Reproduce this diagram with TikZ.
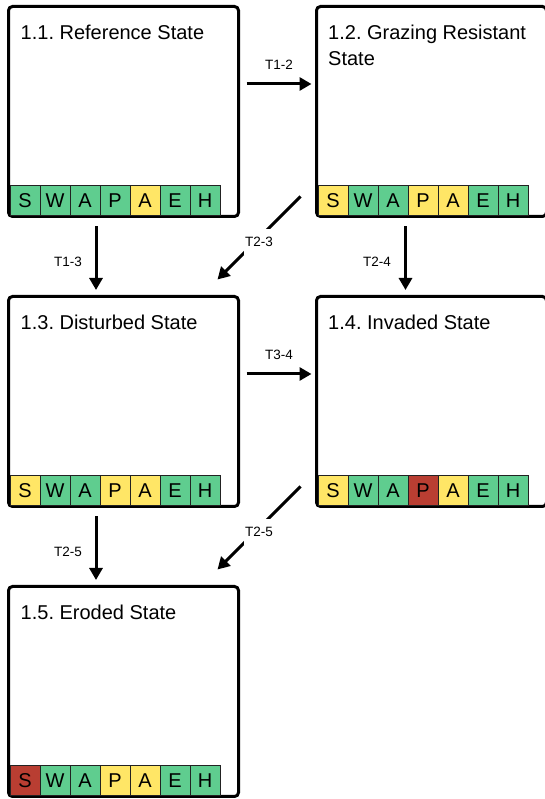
\documentclass[tikz,border=0pt]{standalone}
\usepackage{fontspec}
\setmainfont{Liberation Sans}
\usetikzlibrary{arrows.meta}
\frenchspacing

\definecolor{cgreen}{RGB}{95,205,143}
\definecolor{cyellow}{RGB}{255,230,102}
\definecolor{cred}{RGB}{185,62,50}
\definecolor{cedge}{RGB}{34,34,34}

\tikzset{
  statebox/.style={draw=black, line width=3pt, rounded corners=4pt,
    minimum width=230pt, minimum height=210pt, inner sep=0pt},
  title/.style={anchor=base west, inner sep=0pt, align=left,
    font=\fontsize{20}{26}\selectfont},
  cell/.style={draw=cedge, line width=1.2pt, minimum size=30pt, inner sep=0pt,
    anchor=south west, font=\fontsize{20}{22}\selectfont},
  arr/.style={line width=3pt, -{Triangle[length=12pt,width=13pt]}},
  lbl/.style={font=\fontsize{13.5}{15}\selectfont, inner sep=1pt},
  gaplbl/.style={lbl, fill=white, inner xsep=1pt, inner ysep=8pt}
}

% indicator strip along the bottom edge of a state box
\newcommand\cellstrip[2]{%
  \foreach \l/\c [count=\i from 0] in {#2} {
    \node[cell, fill=\c] (#1-\i) at ([xshift={2.5pt+30pt*\i}, yshift=1.5pt]#1.south west) {\l};
  }%
}

\begin{document}
\begin{tikzpicture}[x=1pt, y=1pt]
  \useasboundingbox (0,0) rectangle (545,799);
  \clip (0,0) rectangle (545,799);

  % state boxes
  \node[statebox] (s1) at (123.5,687.5) {};
  \node[statebox] (s2) at (431.5,687.5) {};
  \node[statebox] (s3) at (123.5,397.5) {};
  \node[statebox] (s4) at (431.5,397.5) {};
  \node[statebox] (s5) at (123.5,107.5) {};

  % titles (base anchor sits on the last line of a wrapped title)
  \node[title] (t1) at ([xshift=13.5pt, yshift=-34.5pt]s1.north west) {1.1. Reference State};
  \node[title] (t2) at ([xshift=13pt, yshift=-60.5pt]s2.north west) {1.2. Grazing Resistant\\State};
  \node[title] (t3) at ([xshift=13.5pt, yshift=-34.5pt]s3.north west) {1.3. Disturbed State};
  \node[title] (t4) at ([xshift=13pt, yshift=-34.5pt]s4.north west) {1.4. Invaded State};
  \node[title] (t5) at ([xshift=13.5pt, yshift=-34.5pt]s5.north west) {1.5. Eroded State};

  % indicator strips
  \cellstrip{s1}{S/cgreen,W/cgreen,A/cgreen,P/cgreen,A/cyellow,E/cgreen,H/cgreen}
  \cellstrip{s2}{S/cyellow,W/cgreen,A/cgreen,P/cyellow,A/cyellow,E/cgreen,H/cgreen}
  \cellstrip{s3}{S/cyellow,W/cgreen,A/cgreen,P/cyellow,A/cyellow,E/cgreen,H/cgreen}
  \cellstrip{s4}{S/cyellow,W/cgreen,A/cgreen,P/cred,A/cyellow,E/cgreen,H/cgreen}
  \cellstrip{s5}{S/cred,W/cgreen,A/cgreen,P/cyellow,A/cyellow,E/cgreen,H/cgreen}

  % transitions
  \draw[arr] ([xshift=6.5pt, yshift=27.5pt]s1.east) -- ([xshift=-3.5pt, yshift=27.5pt]s2.west)
    node[lbl, midway, yshift=19pt] {T1-2};
  \draw[arr] ([xshift=6.5pt, yshift=27.5pt]s3.east) -- ([xshift=-3.5pt, yshift=27.5pt]s4.west)
    node[lbl, midway, yshift=19pt] {T3-4};
  \draw[arr] ([xshift=-27.5pt, yshift=-8.5pt]s1.south) -- ([xshift=-27.5pt, yshift=5pt]s3.north)
    node[lbl, midway, xshift=-28pt, yshift=-4pt] {T1-3};
  \draw[arr] ([xshift=-26pt, yshift=-8.5pt]s2.south) -- ([xshift=-26pt, yshift=5pt]s4.north)
    node[lbl, midway, xshift=-28.5pt, yshift=-4pt] {T2-4};
  \draw[arr] ([xshift=-27.5pt, yshift=-8.5pt]s3.south) -- ([xshift=-27.5pt, yshift=5pt]s5.north)
    node[lbl, midway, xshift=-28pt, yshift=-4pt] {T2-5};
  \draw[arr] ([xshift=-14.5pt, yshift=21.5pt]s2.south west) -- ([xshift=-22.5pt, yshift=15.5pt]s3.north east)
    node[gaplbl, midway, yshift=-4pt] {T2-3};
  \draw[arr] ([xshift=-14.5pt, yshift=21.5pt]s4.south west) -- ([xshift=-22.5pt, yshift=15.5pt]s5.north east)
    node[gaplbl, midway, yshift=-4pt] {T2-5};
\end{tikzpicture}
\end{document}
